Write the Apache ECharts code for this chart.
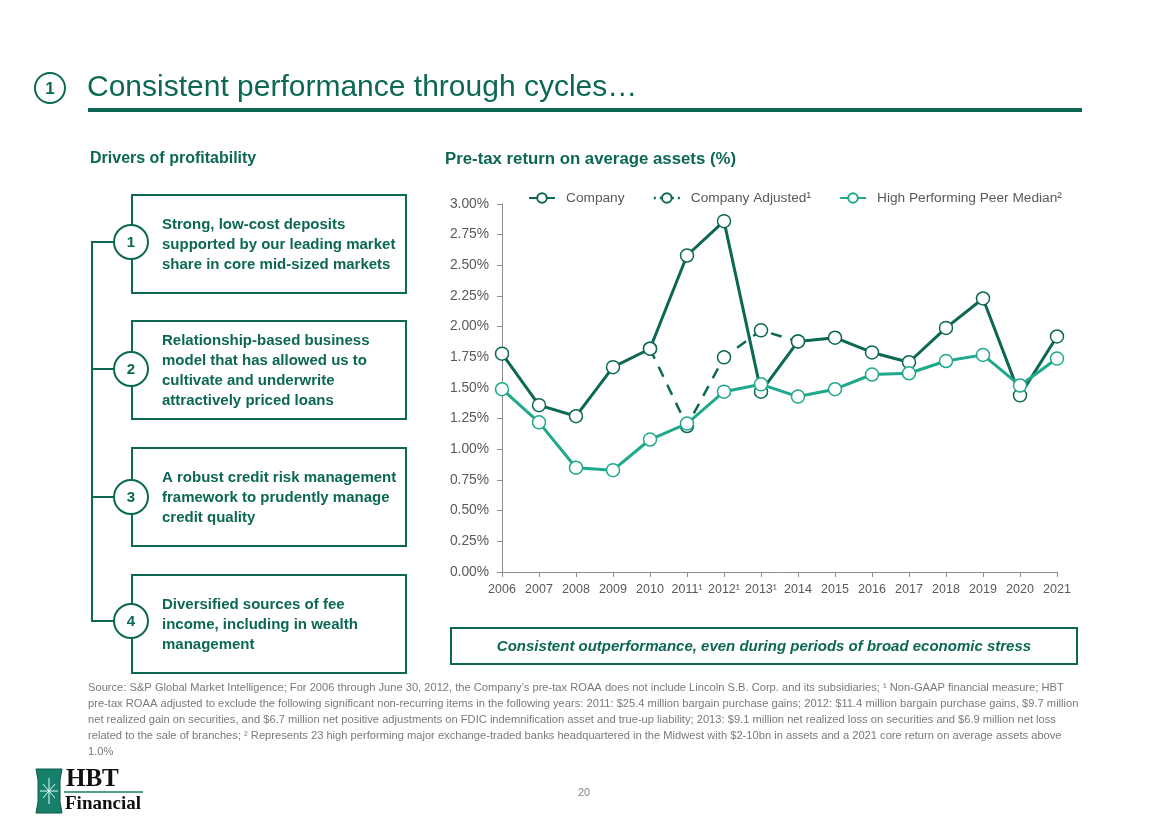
<!DOCTYPE html>
<html><head><meta charset="utf-8">
<script src="https://cdn.jsdelivr.net/npm/echarts@6/dist/echarts.min.js"></script>
<style>html,body{margin:0;padding:0;background:#fff}#c{width:1167px;height:826px}</style>
</head><body><div id="c"></div><script>
// ---- data ----
const years = ['2006','2007','2008','2009','2010','2011¹','2012¹','2013¹','2014','2015','2016','2017','2018','2019','2020','2021'];
const company = [1.78,1.36,1.27,1.67,1.82,2.58,2.86,1.47,1.88,1.91,1.79,1.71,1.99,2.23,1.44,1.92];
const companyAdjusted = [null,null,null,null,1.82,1.19,1.75,1.97,1.88,null,null,null,null,null,null,null];
const peerMedian = [1.49,1.22,0.85,0.83,1.08,1.21,1.47,1.53,1.43,1.49,1.61,1.62,1.72,1.77,1.52,1.74];
const seriesNames = ['Company','Company Adjusted¹','High Performing Peer Median²'];

const title = 'Consistent performance through cycles…';
const leftHeading = 'Drivers of profitability';
const chartHeading = 'Pre-tax return on average assets (%)';
const drivers = [
  'Strong, low-cost deposits\nsupported by our leading market\nshare in core mid-sized markets',
  'Relationship-based business\nmodel that has allowed us to\ncultivate and underwrite\nattractively priced loans',
  'A robust credit risk management\nframework to prudently manage\ncredit quality',
  'Diversified sources of fee\nincome, including in wealth\nmanagement'
];
const callout = 'Consistent outperformance, even during periods of broad economic stress';
const footnote = [
  'Source: S&P Global Market Intelligence; For 2006 through June 30, 2012, the Company’s pre-tax ROAA does not include Lincoln S.B. Corp. and its subsidiaries; ¹ Non-GAAP financial measure; HBT',
  'pre-tax ROAA adjusted to exclude the following significant non-recurring items in the following years: 2011: $25.4 million bargain purchase gains; 2012: $11.4 million bargain purchase gains, $9.7 million',
  'net realized gain on securities, and $6.7 million net positive adjustments on FDIC indemnification asset and true-up liability; 2013: $9.1 million net realized loss on securities and $6.9 million net loss',
  'related to the sale of branches; ² Represents 23 high performing major exchange-traded banks headquartered in the Midwest with $2-10bn in assets and a 2021 core return on average assets above',
  '1.0%'
];
const pageNumber = '20';

// ---- style ----
const DG = '#0c6853';
const TEAL = '#1fa98c';
const SANS = '"Liberation Sans",Arial,"DejaVu Sans",sans-serif';
const SERIF = '"Liberation Serif","DejaVu Serif",serif';

const chart = echarts.init(document.getElementById('c'), null, {renderer:'canvas'});

const g = [];
// title
g.push({type:'circle', shape:{cx:50, cy:88, r:15}, style:{fill:'#fff', stroke:DG, lineWidth:2}});
g.push({type:'text', x:50, y:89, style:{text:'1', font:'bold 17px '+SANS, fill:DG, align:'center', verticalAlign:'middle'}});
g.push({type:'text', x:87, y:88, style:{text:title, font:'30px '+SANS, fill:DG, verticalAlign:'middle'}});
g.push({type:'rect', shape:{x:88, y:108, width:994, height:4}, style:{fill:DG}});
// headings
g.push({type:'text', x:90, y:159, style:{text:leftHeading, font:'bold 16px '+SANS, fill:DG, verticalAlign:'middle'}});
g.push({type:'text', x:445, y:159, style:{text:chartHeading, font:'bold 16.8px '+SANS, fill:DG, verticalAlign:'middle'}});
// driver boxes
const boxTops = [195, 321, 448, 575];
const boxH = 98;
const circY = [242, 369, 497, 621];
g.push({type:'polyline', shape:{points:[[114,circY[0]],[92,circY[0]],[92,circY[3]],[114,circY[3]]]}, style:{stroke:DG, lineWidth:2, fill:null}});
for (let i=0;i<4;i++){
  g.push({type:'rect', shape:{x:132, y:boxTops[i], width:274, height:boxH}, style:{fill:'#fff', stroke:DG, lineWidth:2}});
  if (i===1 || i===2) g.push({type:'line', shape:{x1:92, y1:circY[i], x2:114, y2:circY[i]}, style:{stroke:DG, lineWidth:2}});
  g.push({type:'circle', shape:{cx:131, cy:circY[i], r:17}, style:{fill:'#fff', stroke:DG, lineWidth:2}});
  g.push({type:'text', x:131, y:circY[i]+1, style:{text:String(i+1), font:'bold 15px '+SANS, fill:DG, align:'center', verticalAlign:'middle'}});
  g.push({type:'text', x:162, y:boxTops[i]+boxH/2+1, style:{text:drivers[i], font:'bold 15px '+SANS, fill:DG, verticalAlign:'middle', lineHeight:20}});
}
// callout
g.push({type:'rect', shape:{x:451, y:628, width:626, height:36}, style:{fill:'#fff', stroke:DG, lineWidth:2}});
g.push({type:'text', x:764, y:647, style:{text:callout, font:'italic bold 15px '+SANS, fill:DG, align:'center', verticalAlign:'middle'}});
// footnote
footnote.forEach((t,i)=>{
  g.push({type:'text', x:88, y:688+i*16, style:{text:t, font:'11.15px '+SANS, fill:'#7a7a7a', verticalAlign:'middle'}});
});
// page number
g.push({type:'text', x:584, y:793, style:{text:pageNumber, font:'11px '+SANS, fill:'#888', align:'center', verticalAlign:'middle'}});
// logo
g.push({type:'polygon', shape:{points:[[36,769],[62,769],[60,780],[60,802],[62,813],[36,813],[38,802],[38,780]]}, style:{fill:'#16806a', stroke:'#0b5a48', lineWidth:1}});
g.push({type:'line', shape:{x1:49, y1:778, x2:49, y2:804}, style:{stroke:'#dff', lineWidth:1}});
g.push({type:'line', shape:{x1:40, y1:791, x2:58, y2:791}, style:{stroke:'#dff', lineWidth:1}});
g.push({type:'line', shape:{x1:43, y1:784, x2:55, y2:798}, style:{stroke:'#dff', lineWidth:1}});
g.push({type:'line', shape:{x1:55, y1:784, x2:43, y2:798}, style:{stroke:'#dff', lineWidth:1}});
g.push({type:'text', x:66, y:780, style:{text:'HBT', font:'bold 25px '+SERIF, fill:'#111', verticalAlign:'middle'}});
g.push({type:'line', shape:{x1:64, y1:792, x2:143, y2:792}, style:{stroke:'#16806a', lineWidth:1.5}});
g.push({type:'text', x:65, y:804, style:{text:'Financial', font:'bold 19px '+SERIF, fill:'#111', verticalAlign:'middle'}});

const sym = {symbol:'circle', symbolSize:13};
chart.setOption({
  animation:false,
  backgroundColor:'#fff',
  legend:{
    top:186, left:523, itemGap:28, itemWidth:26, itemHeight:12,
    data:[
      {name:seriesNames[0]},
      {name:seriesNames[1], lineStyle:{type:[2,4], width:2.5}},
      {name:seriesNames[2]}
    ],
    textStyle:{fontFamily:SANS, fontSize:13.7, color:'#595959', padding:[0,0,0,6]}
  },
  grid:{left:502, right:110, top:204, bottom:254, containLabel:false},
  xAxis:{
    type:'category', data:years, boundaryGap:false,
    axisLine:{lineStyle:{color:'#8c8c8c', width:1}},
    axisTick:{alignWithLabel:true, length:5, lineStyle:{color:'#8c8c8c'}},
    axisLabel:{fontFamily:SANS, fontSize:12.5, color:'#595959', margin:11, interval:0}
  },
  yAxis:{
    type:'value', min:0, max:3, interval:0.25,
    axisLine:{show:true, lineStyle:{color:'#8c8c8c', width:1}},
    axisTick:{show:true, length:5, lineStyle:{color:'#8c8c8c'}},
    splitLine:{show:false},
    axisLabel:{fontFamily:SANS, fontSize:13.8, color:'#595959', margin:13, formatter:v=>v.toFixed(2)+'%'}
  },
  series:[
    {name:seriesNames[1], type:'line', data:companyAdjusted, ...sym, z:2,
     lineStyle:{color:DG, width:2.5, type:[11,9]}, itemStyle:{color:'#fff', borderColor:DG, borderWidth:1.5}},
    {name:seriesNames[0], type:'line', data:company, ...sym, z:3,
     lineStyle:{color:DG, width:3}, itemStyle:{color:'#fff', borderColor:DG, borderWidth:1.5}},
    {name:seriesNames[2], type:'line', data:peerMedian, ...sym, z:4,
     lineStyle:{color:TEAL, width:3}, itemStyle:{color:'#fff', borderColor:TEAL, borderWidth:1.5}}
  ],
  graphic:g
});
</script></body></html>
